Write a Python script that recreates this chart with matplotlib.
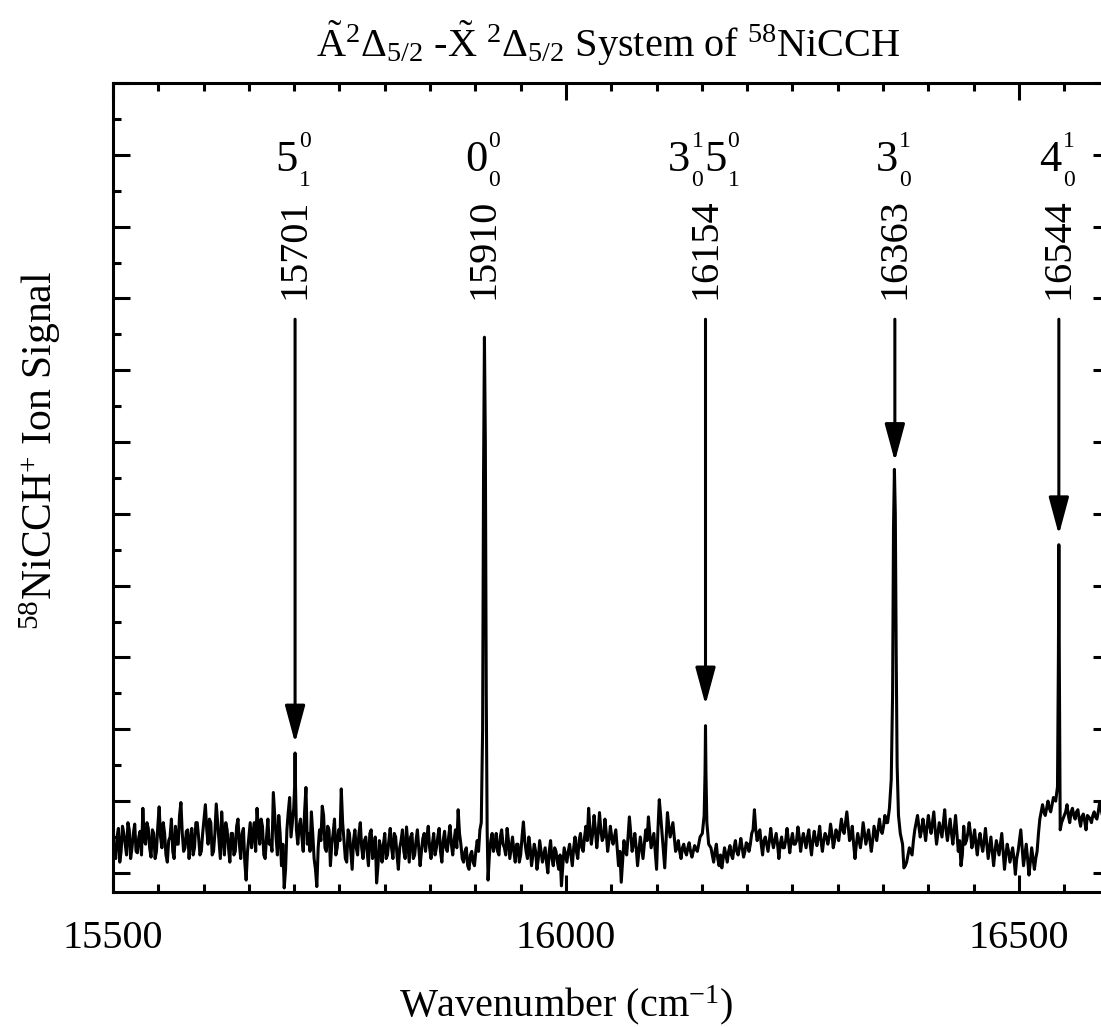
import numpy as np
import matplotlib
matplotlib.use("Agg")
import matplotlib.pyplot as plt
from matplotlib.ticker import MultipleLocator

plt.rcParams["font.family"] = ["Liberation Serif", "DejaVu Serif"]
plt.rcParams["mathtext.fontset"] = "custom"
plt.rcParams["mathtext.rm"] = "Liberation Serif"
plt.rcParams["mathtext.it"] = "Liberation Serif:italic"
plt.rcParams["mathtext.default"] = "regular"

# ------------------------------------------------------------ data
# baseline trace: one value every 3 cm-1 from 15500,
# plus the in-between readings (at +1.5 cm-1)
W_START = 15500
W_STEP = 3
signal = [
    0.45, 0.20, 0.62, 0.30, 0.55, 0.25, 0.60, 0.35, 0.68, 0.28, 0.58, 0.90, 0.40, 0.62, 0.22, 0.55, 0.30,
    0.92, 0.35, 0.55, 0.15, 0.50, 0.30, 0.65, 0.40, 0.98, 0.30, 0.58, 0.20, 0.62, 0.35, 0.70, 0.25, 0.55,
    0.95, 0.40, 0.70, 0.30, 0.96, 0.45, 0.85, 0.25, 0.60, 0.15, 0.55, 0.30, 0.75, 0.20, 0.62, -0.10, 0.50,
    0.35, 0.70, 0.90, 0.40, 0.65, 0.20, 0.75, 0.45, 1.12, 0.50, 0.80, 0.10, -0.21, 0.60, 1.05, 0.70,
    0.90,
    0.40, 0.75, 0.30, 1.19, 0.55, 0.85, 0.20, -0.19, 0.60, 0.93, 0.35, 0.65, 0.10, 0.55, 0.25, 0.60,
    1.17, 0.45, 0.15, 0.55, 0.05, 0.60, 0.25, 0.70, 0.20, 0.50, 0.10, 0.60, 0.30, -0.14, 0.45, 0.15, 0.55,
    0.25, 0.62, 0.20, 0.50, 0.05, 0.45, 0.30, 0.64, 0.15, 0.55, 0.25, 0.60, 0.10, 0.48, 0.30, 0.65,
    0.20, 0.55, 0.35, 0.62, 0.15, 0.58, 0.30, 0.66, 0.25, 0.60, 0.88, 0.40, 0.15, 0.35, 0.05, 0.30, 0.10,
    0.45, 0.60,
    0.80, 0.60,
    -0.05, 0.45, 0.30, 0.55, 0.25, 0.60, 0.35, 0.62, 0.20, 0.50, 0.15, 0.40, 0.25,
    0.71, 0.30, 0.50, 0.10, 0.40, 0.05, 0.45, 0.15, 0.35, 0.00, 0.45, 0.10, 0.30, 0.05, -0.18, 0.35,
    0.15, 0.40, 0.10, 0.50, 0.20, 0.55, 0.30, 0.65, 0.90, 0.40, 0.80, 0.35, 0.84, 0.45, 0.75, 0.30, 0.65,
    0.40, 0.60, 0.10, -0.13, 0.45, 0.25, 0.78, 0.30, 0.55, 0.10, 0.50, 0.20, 0.60, 0.78, 0.35, 0.55, 0.05,
    1.02, 0.55, 0.07, 0.84, 0.50, 0.70, 0.30, 0.45, 0.20, 0.40, 0.25, 0.42, 0.22, 0.38, 0.30, 0.50,
    0.60, 0.90, 0.50,
    0.35, 0.15, 0.40, 0.10, 0.07, 0.35, 0.15, 0.38, 0.20, 0.45, 0.25, 0.48, 0.22, 0.42, 0.30, 0.55,
    0.88, 0.45, 0.60, 0.25, 0.50, 0.30, 0.62, 0.35, 0.55, 0.20, 0.50, 0.35, 0.62, 0.28, 0.55, 0.40, 0.64, 0.30,
    0.55, 0.35, 0.60, 0.25, 0.58, 0.38, 0.65, 0.30, 0.55, 0.40, 0.68, 0.35, 0.60, 0.45, 0.75, 0.55, 0.85,
    0.45, 0.65, 0.20, 0.55, 0.35, 0.70, 0.40, 0.60, 0.30, 0.65, 0.45, 0.75, 0.55, 0.80, 0.70,
    0.90, 1.30, 2.50, 5.00, 0.55,
    0.07,
    0.15, 0.35, 0.25, 0.60, 0.80, 0.50, 0.75, 0.45, 0.80, 0.55, 0.85, 0.40, 0.70, 0.50, 0.88, 0.45, 0.75,
    0.40, 0.80, 0.30, 0.10, 0.65, 0.45, 0.70,
    0.35, 0.60, 0.25, 0.55, 0.30, 0.62, 0.20, 0.50, 0.10, 0.45, 0.25, 0.55, 0.05, 0.40, 0.15, 0.35, -0.02,
    0.30, 0.60, 0.10, 0.40, -0.03, 0.35, 0.05, 0.30,
    0.75, 0.95, 0.80, 1.00, 0.85, 1.05,
    1.00, 0.90, 0.70,
    0.80, 0.95, 0.70, 0.90, 0.75, 0.88, 0.65, 0.82, 0.60, 0.78, 0.70, 0.85, 0.75, 0.98, 0.80, 0.90, 0.80,
]
signal_mid = [
    0.35, 0.50, 0.15, 0.65, 0.40, 0.70, 0.20, 0.55, 0.30, 0.50, 0.25, 0.45, 0.70, 0.35, 0.60, 0.20, 0.65,
    0.50, 0.70, 0.25, 0.45, 0.75, 0.20, 0.40, 0.80, 0.55, 0.35, 0.60, 0.45, 0.25, 0.70, 0.50, 0.30, 0.75,
    0.60, 0.75, 0.25, 0.55, 0.70, 0.20, 0.50, 0.70, 0.35, 0.55, 0.25, 0.65, 0.40, 0.55, 0.15, 0.30, 0.70,
    0.55, 0.30, 0.60, 0.75, 0.25, 0.50, 0.40, 0.30, 0.80, 0.25, 0.55, 0.40, 0.05, 0.85, 0.50, 0.95,
    0.55,
    0.65, 0.50, 0.85, 0.40, 0.30, 0.55, 0.05, 0.35, 0.45, 0.80, 0.30, 0.60, 0.40, 0.75, 0.35, 0.45,
    0.70, 0.20, 0.60, 0.30, 0.45, 0.35, 0.55, 0.35, 0.45, 0.30, 0.55, 0.20, 0.50, 0.10, 0.35, 0.40, 0.20,
    0.45, 0.35, 0.55, 0.25, 0.35, 0.60, 0.20, 0.40, 0.50, 0.20, 0.45, 0.35, 0.30, 0.55, 0.50, 0.35,
    0.40, 0.25, 0.50, 0.30, 0.45, 0.35, 0.50, 0.40, 0.45, 0.35, 0.55, 0.20, 0.30, 0.10, 0.25, 0.15, 0.30,
    0.30, 0.70,
    0.50, 0.30,
    0.25, 0.55, 0.40, 0.30, 0.50, 0.40, 0.25, 0.45, 0.35, 0.30, 0.40, 0.15, 0.50,
    0.45, 0.20, 0.35, 0.25, 0.30, 0.20, 0.30, 0.25, 0.15, 0.30, 0.20, 0.35, 0.15, 0.25, 0.10, 0.25,
    0.30, 0.25, 0.35, 0.30, 0.45, 0.35, 0.50, 0.45, 0.60, 0.55, 0.60, 0.55, 0.60, 0.50, 0.55, 0.45, 0.50,
    0.50, 0.35, 0.30, 0.15, 0.30, 0.50, 0.55, 0.40, 0.35, 0.30, 0.35, 0.40, 0.45, 0.55, 0.45, 0.30, 0.60,
    0.80, 0.30, 0.45, 0.65, 0.60, 0.50, 0.35, 0.30, 0.35, 0.30, 0.35, 0.30, 0.30, 0.33, 0.40, 0.45,
    0.70, 0.80, 0.40,
    0.25, 0.30, 0.20, 0.25, 0.20, 0.25, 0.30, 0.25, 0.35, 0.30, 0.35, 0.35, 0.30, 0.40, 0.40, 0.60,
    0.60, 0.55, 0.40, 0.45, 0.40, 0.45, 0.45, 0.45, 0.40, 0.40, 0.35, 0.45, 0.45, 0.45, 0.40, 0.45, 0.50, 0.45,
    0.45, 0.50, 0.40, 0.45, 0.45, 0.50, 0.45, 0.45, 0.50, 0.50, 0.55, 0.45, 0.55, 0.60, 0.60, 0.70, 0.65,
    0.50, 0.40, 0.40, 0.45, 0.50, 0.55, 0.50, 0.45, 0.45, 0.55, 0.60, 0.60, 0.65, 0.70, 0.85,
    1.00, 2.00, 5.30, 1.00, 0.40,
    0.10,
    0.25, 0.30, 0.45, 0.70, 0.65, 0.60, 0.60, 0.65, 0.65, 0.70, 0.60, 0.55, 0.60, 0.70, 0.60, 0.60, 0.55,
    0.60, 0.55, 0.45, 0.25, 0.40, 0.55, 0.55,
    0.45, 0.40, 0.45, 0.40, 0.45, 0.40, 0.35, 0.30, 0.30, 0.35, 0.40, 0.30, 0.25, 0.30, 0.25, 0.20, 0.20,
    0.45, 0.35, 0.25, 0.20, 0.15, 0.20, 0.20, 0.55,
    0.85, 0.85, 0.90, 0.90, 0.95, 0.90,
    1.00, 1.00, 0.75,
    0.85, 0.80, 0.85, 0.80, 0.85, 0.75, 0.78, 0.72, 0.80, 0.75, 0.80, 0.78, 0.85, 0.90, 0.85, 0.82, 0.85,
]

# sharp bands: points across each line (wavenumber, signal)
band_w = [
    [15699.5, 15700.5, 15701.0, 15701.5, 15702.5],
    [15906.5, 15908.0, 15909.0, 15910.0, 15911.0, 15912.0, 15913.0, 15914.0],
    [16150.5, 16152.5, 16153.5, 16154.0, 16154.5, 16155.5, 16157.5],
    [16357.0, 16359.0, 16360.5, 16361.5, 16362.5, 16363.5, 16364.5, 16365.5, 16367.0, 16369.0],
    [16540.5, 16542.5, 16543.5, 16544.0, 16544.5, 16545.5, 16547.0],
]
band_y = [
    [0.90, 1.20, 1.67, 1.20, 0.60],
    [0.70, 2.00, 5.50, 7.46, 6.00, 2.50, 0.60, -0.10],
    [0.55, 0.80, 1.40, 2.05, 1.40, 0.70, 0.40],
    [0.90, 1.30, 2.50, 4.80, 5.62, 5.00, 3.00, 1.50, 0.80, 0.55],
    [1.00, 1.20, 3.00, 4.57, 3.00, 0.60, 0.70],
]

line_labels = ["15701", "15910", "16154", "16363", "16544"]
line_pos = [15701, 15910, 16154, 16363, 16544]
# (digit, upper, lower) groups of each assignment
assignments = [
    [("5", "0", "1")],
    [("0", "0", "0")],
    [("3", "1", "0"), ("5", "0", "1")],
    [("3", "1", "0")],
    [("4", "1", "0")],
]

arrow_pos = [15701, 16154, 16363, 16544]
arrow_tip = [1.81, 2.34, 5.73, 4.71]
ARROW_TAIL = 7.71

title = (r"$\tilde{\mathrm{A}}^{2}\Delta_{5/2}$ -$\tilde{\mathrm{X}}$ "
         r"$^{2}\Delta_{5/2}$ System of $^{58}$NiCCH")


def build_trace():
    w = W_START + W_STEP * np.arange(len(signal))
    wm = W_START + W_STEP / 2 + W_STEP * np.arange(len(signal_mid))
    w = np.concatenate([w, wm])
    y = np.concatenate([np.array(signal, float), np.array(signal_mid, float)])
    keep = np.ones(len(w), dtype=bool)
    for bw in band_w:
        keep &= ~((w >= min(bw) - 1) & (w <= max(bw) + 1))
    allw = np.concatenate([w[keep]] + [np.array(b) for b in band_w])
    ally = np.concatenate([y[keep]] + [np.array(b) for b in band_y])
    order = np.argsort(allw)
    return allw[order], ally[order]


def main():
    fig = plt.figure(figsize=(11.01, 10.27), dpi=100)
    ax = fig.add_axes([0.1026, 0.1315, 0.9052, 0.7877])

    ww, yy = build_trace()
    ax.plot(ww, yy, color="black", lw=2.2)

    ax.set_xlim(15500, 16600)
    ax.set_ylim(-0.265, 11.0)

    for w, tip in zip(arrow_pos, arrow_tip):
        ax.annotate("", xy=(w, tip), xytext=(w, ARROW_TAIL),
                    arrowprops=dict(arrowstyle="-|>,head_length=1.15,head_width=0.31",
                                    mutation_scale=20, lw=2.2, color="black",
                                    shrinkA=0, shrinkB=0))

    for lab, w in zip(line_labels, line_pos):
        ax.text(w, 8.69, lab, rotation=90, ha="center", va="center", fontsize=29)

    px = 0.72  # points per pixel
    for w, groups in zip(line_pos, assignments):
        gw = 36
        left = -len(groups) * gw / 2 - 1
        for i, (d, up, lo) in enumerate(groups):
            right = left + i * gw + 22
            ax.annotate(d, xy=(w, 9.777), xytext=(right * px, 0), textcoords="offset points",
                        ha="right", va="baseline", fontsize=32)
            ax.annotate(up, xy=(w, 9.777), xytext=((right + 1) * px, 24 * px),
                        textcoords="offset points", ha="left", va="baseline", fontsize=17)
            ax.annotate(lo, xy=(w, 9.777), xytext=((right + 1) * px, -15 * px),
                        textcoords="offset points", ha="left", va="baseline", fontsize=17)

    ax.xaxis.set_major_locator(MultipleLocator(500))
    ax.xaxis.set_minor_locator(MultipleLocator(50))
    ax.yaxis.set_major_locator(MultipleLocator(1))
    ax.yaxis.set_minor_locator(MultipleLocator(0.5))
    ax.tick_params(which="both", direction="in", top=True, right=True, width=2.2)
    ax.tick_params(which="major", length=12)
    ax.tick_params(which="minor", length=6)
    ax.tick_params(axis="x", labelsize=29, pad=20)
    ax.tick_params(axis="y", labelleft=False)
    for s in ax.spines.values():
        s.set_linewidth(2.2)

    ax.set_xlabel(r"Wavenumber (cm$^{-1}$)", fontsize=29)
    ax.xaxis.set_label_coords(0.4545, -0.113)
    ax.set_ylabel(r"$^{58}$NiCCH$^{+}$ Ion Signal", fontsize=30)
    ax.yaxis.set_label_coords(-0.050, 0.546)

    fig.text(316 / 1101, 1 - 57 / 1027, title, ha="left", va="baseline", fontsize=29)

    fig.savefig("out.png", dpi=100)


if __name__ == "__main__":
    main()
